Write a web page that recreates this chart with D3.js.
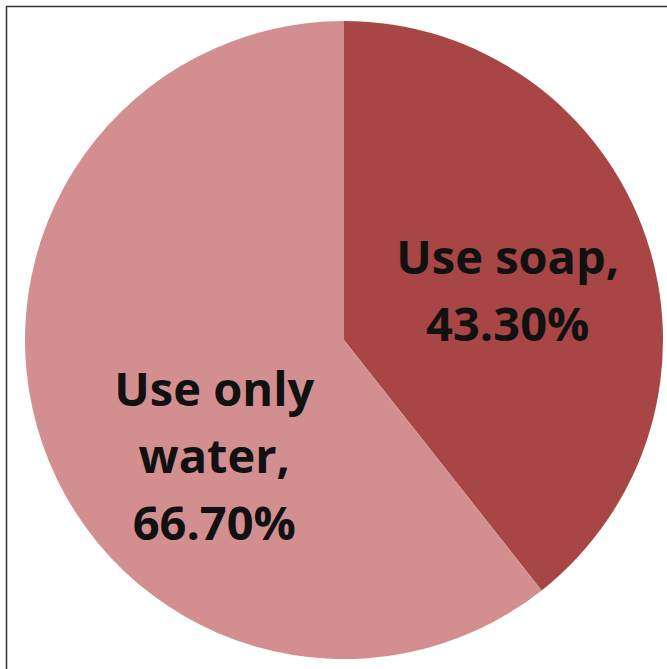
<!DOCTYPE html>
<html>
<head>
<meta charset="utf-8">
<script src="https://cdn.jsdelivr.net/npm/d3@7"></script>
<style>
  body { margin: 0; background: #fff; }
</style>
</head>
<body>
<div id="chart"></div>
<script>
const categories = ["Use soap", "Use only water"];
const values = [43.30, 66.70];
const labelLines = [["Use soap,", "43.30%"], ["Use only", "water,", "66.70%"]];
const colors = ["#a84545", "#d38f8f"];

const width = 667, height = 669;
const cx = 344, cy = 340, radius = 319;

const svg = d3.select("#chart")
    .append("svg")
        .attr("width", width)
        .attr("height", height);

// chart frame (right and bottom edges are cut off in the original)
svg.append("rect")
    .attr("x", 6.5)
    .attr("y", 6.5)
    .attr("width", 700)
    .attr("height", 700)
    .attr("fill", "none")
    .attr("stroke", "#333")
    .attr("stroke-width", 1.5);

const pie = d3.pie().sort(null).value(d => d.value);
const arcs = pie(categories.map((c, i) => ({ name: c, value: values[i], lines: labelLines[i] })));

const arc = d3.arc().innerRadius(0).outerRadius(radius);

const g = svg.append("g")
    .attr("transform", `translate(${cx}, ${cy})`);

g.selectAll("path")
    .data(arcs)
    .enter()
    .append("path")
        .attr("d", arc)
        .attr("fill", (d, i) => colors[i]);

// labels start from the slice centroid, nudged to where the original has them
const labelArc = d3.arc().innerRadius(radius * 0.55).outerRadius(radius * 0.55);
const lineHeight = 67;
const offsets = [[-2, 25], [36, 75]];

g.selectAll("text.label")
    .data(arcs)
    .enter()
    .append("text")
        .attr("class", "label")
        .attr("text-anchor", "middle")
        .attr("font-family", "'Open Sans', sans-serif")
        .attr("font-weight", "bold")
        .attr("font-size", 47)
        .attr("fill", "#111")
        .each(function(d, i) {
            const [x, y] = labelArc.centroid(d);
            const n = d.data.lines.length;
            d3.select(this).selectAll("tspan")
                .data(d.data.lines)
                .enter()
                .append("tspan")
                    .attr("x", x + offsets[i][0])
                    .attr("y", (t, j) => y + offsets[i][1] + (j - (n - 1) / 2) * lineHeight)
                    .text(t => t);
        });
</script>
</body>
</html>
